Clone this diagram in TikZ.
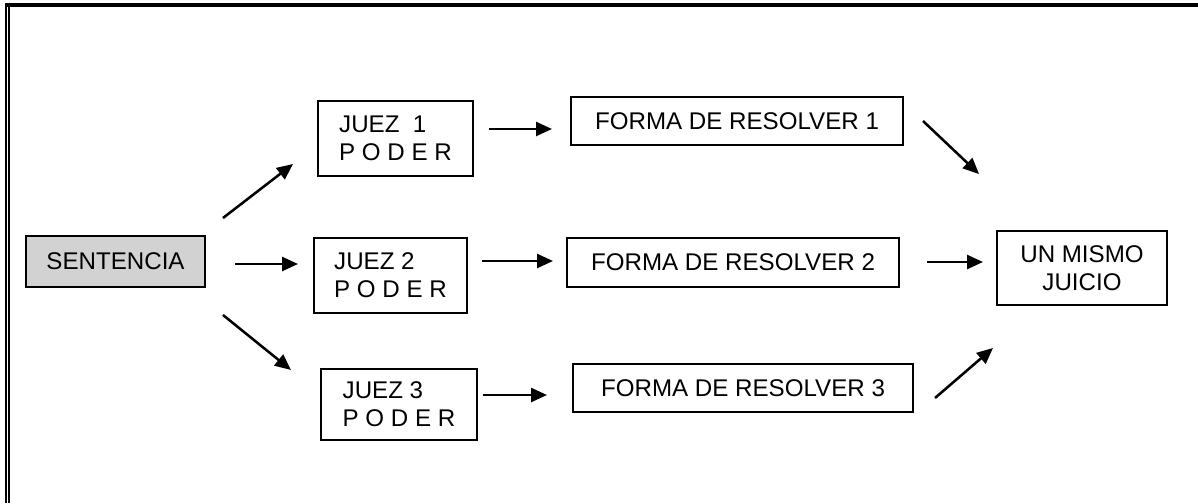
\documentclass[tikz,border=0pt]{standalone}
\usepackage{fontspec}
\setmainfont{Liberation Sans}
\usetikzlibrary{arrows.meta}

\definecolor{sentgray}{RGB}{210,210,210}

\begin{document}
\begin{tikzpicture}[x=0.75pt, y=-0.75pt,
        caja/.style={draw, line width=1.7pt, inner sep=0pt,
            font=\fontsize{18.1}{20.8}\selectfont},
        flecha/.style={-{Triangle[length=12pt, width=10.5pt]}, line width=1.9pt}]

        \useasboundingbox (0,0) rectangle (1198,503);

        % marco de la hoja
        \draw[line width=3pt] (5,5.5) -- (1198,5.5);
        \draw[line width=1.8pt] (6,4) -- (6,503);
        \draw[line width=1.8pt] (9.2,7) -- (9.2,503);

        % cajas
        \node[caja, fill=sentgray, minimum width=134.25pt, minimum height=38.25pt] (sent) at (115.5,261.5) {SENTENCIA};

        \node[caja, align=left, minimum width=116.25pt, minimum height=56.25pt] (juez1) at (395.5,138.5) {JUEZ\ \ 1\\P O D E R};
        \node[caja, align=left, minimum width=114.75pt, minimum height=56.25pt] (juez2) at (390.5,275.5) {JUEZ 2\\P O D E R};
        \node[caja, align=left, minimum width=117pt, minimum height=53.25pt] (juez3) at (399,404.5) {JUEZ 3\\P O D E R};

        \node[caja, minimum width=249pt, minimum height=36pt] (forma1) at (737,121) {FORMA DE RESOLVER 1};
        \node[caja, minimum width=249pt, minimum height=36.75pt] (forma2) at (733,262.5) {FORMA DE RESOLVER 2};
        \node[caja, minimum width=255pt, minimum height=36pt] (forma3) at (743,388) {FORMA DE RESOLVER 3};

        \node[caja, align=center, minimum width=127.5pt, minimum height=55.5pt] (juicio) at (1082,268) {UN MISMO\\JUICIO};

        % extremos de las flechas
        \coordinate (s1a) at (223,218);  \coordinate (s1b) at (293,164);
        \coordinate (s2a) at (235,264);  \coordinate (s2b) at (298,264);
        \coordinate (s3a) at (223,315);  \coordinate (s3b) at (291,370);
        \coordinate (j1a) at (489,129);  \coordinate (j1b) at (552,129);
        \coordinate (j2a) at (482,261);  \coordinate (j2b) at (553,261);
        \coordinate (j3a) at (483,395);  \coordinate (j3b) at (547,395);
        \coordinate (f1a) at (923,121);  \coordinate (f1b) at (979,174);
        \coordinate (f2a) at (927,262);  \coordinate (f2b) at (983,262);
        \coordinate (f3a) at (935,398);  \coordinate (f3b) at (993,348);

        % flechas
        \foreach \ini/\fin in {s1a/s1b, s2a/s2b, s3a/s3b, j1a/j1b, j2a/j2b, j3a/j3b, f1a/f1b, f2a/f2b, f3a/f3b}
        \draw[flecha] (\ini) -- (\fin);

    \end{tikzpicture}
\end{document}
